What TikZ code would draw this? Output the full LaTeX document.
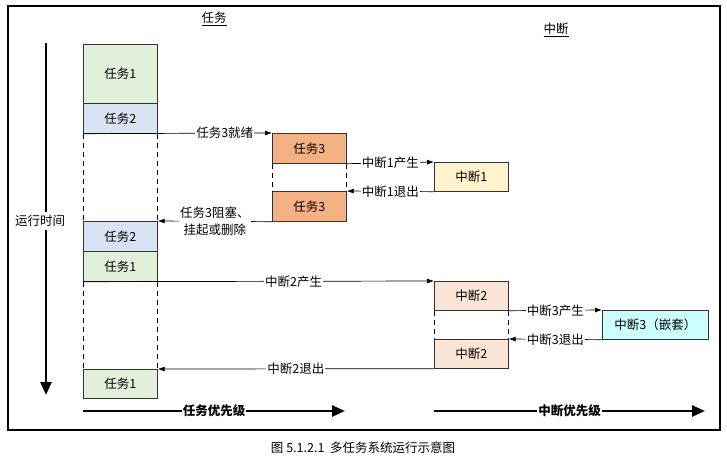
\documentclass[tikz,border=0pt]{standalone}
\usepackage{fontspec}
\setmainfont{Liberation Serif}
\newfontfamily\cjk{Noto Sans CJK SC}
\usetikzlibrary{arrows.meta}
\definecolor{cg}{HTML}{E2EFDA}
\definecolor{cb}{HTML}{DAE3F3}
\definecolor{co}{HTML}{F4B183}
\definecolor{cy}{HTML}{FFF2CC}
\definecolor{cp}{HTML}{FBE5D6}
\definecolor{cc}{HTML}{CCFFFF}
\begin{document}
\begin{tikzpicture}[x=1pt,y=-1pt,font=\cjk\fontsize{12.5}{15}\selectfont,
  box/.style={draw=black!80,line width=0.7pt,anchor=north west,inner sep=0pt},
  dsh/.style={line width=0.7pt,dash pattern=on 5pt off 4pt},
  con/.style={line width=0.7pt,-{Latex[length=7pt,width=5pt]}},
  lbl/.style={fill=white,inner sep=1pt},
  big/.style={line width=2.5pt,-{Triangle[length=13pt,width=11pt]}}]
\useasboundingbox (0,0) rectangle (727,460);
\draw[line width=1.3pt] (8,6) rectangle (720,430);
\node (cap) at (363,448) {图 5.1.2.1\ \ 多任务系统运行示意图};
\node (ht) at (214,19) {\underline{任务}};
\node (hi) at (556,30) {\underline{中断}};
% time axis
\node (time) at (40,221) {运行时间};
\coordinate (ta) at (46,43);
\coordinate (tb) at (46,395);
\draw[line width=2.5pt] (ta) -- (time.north -| ta);
\draw[big] (time.south -| ta) -- (tb);
% tasks
\node[box,fill=cg,minimum width=74pt,minimum height=59pt] (t1a) at (83,44) {};
\node at (t1a.center) {任务1};
\node[box,fill=cb,minimum width=74pt,minimum height=30pt] (t2a) at (83,103) {};
\node at (t2a.center) {任务2};
\node[box,fill=cb,minimum width=74pt,minimum height=30pt] (t2b) at (83,221) {};
\node at (t2b.center) {任务2};
\node[box,fill=cg,minimum width=74pt,minimum height=30pt] (t1b) at (83,251) {};
\node at (t1b.center) {任务1};
\node[box,fill=cg,minimum width=74pt,minimum height=29pt] (t1c) at (83,369) {};
\node at (t1c.center) {任务1};
\draw[dsh] (t2a.south west) -- (t2b.north west);
\draw[dsh] (t2a.south east) -- (t2b.north east);
\draw[dsh] (t1b.south west) -- (t1c.north west);
\draw[dsh] (t1b.south east) -- (t1c.north east);
\node[box,fill=co,minimum width=74pt,minimum height=30pt] (t3a) at (272,133) {};
\node at (t3a.center) {任务3};
\node[box,fill=co,minimum width=74pt,minimum height=30pt] (t3b) at (272,191) {};
\node at (t3b.center) {任务3};
\draw[dsh] (t3a.south west) -- (t3b.north west);
\draw[dsh] (t3a.south east) -- (t3b.north east);
% interrupts
\node[box,fill=cy,minimum width=74pt,minimum height=29pt] (i1) at (434,162) {};
\node at (i1.center) {中断1};
\node[box,fill=cp,minimum width=74pt,minimum height=29pt] (i2a) at (434,281) {};
\node at (i2a.center) {中断2};
\node[box,fill=cp,minimum width=74pt,minimum height=29pt] (i2b) at (434,339) {};
\node at (i2b.center) {中断2};
\draw[dsh] (i2a.south west) -- (i2b.north west);
\draw[dsh] (i2a.south east) -- (i2b.north east);
\node[box,fill=cc,minimum width=106pt,minimum height=29pt] (i3) at (602,310) {};
\node at (i3.center) {中断3（嵌套）};
% connectors
\draw[con] (t2a.south west) -- node[lbl,pos=0.75]{任务3就绪} (t3a.north west);
\draw[con] (t3a.south east) -- node[lbl]{中断1产生} (i1.north west);
\draw[con] (i1.south west) -- node[lbl]{中断1退出} (t3b.north east);
\draw[con] (t3b.south west) -- node[lbl,align=center,font=\cjk\fontsize{12.5}{17}\selectfont]{任务3阻塞、\\挂起或删除} (t2b.north east);
\draw[con] (t1b.south west) -- node[lbl,pos=0.6]{中断2产生} (i2a.north west);
\draw[con] (i2a.south east) -- node[lbl]{中断3产生} (i3.north west);
\draw[con] (i3.south west) -- node[lbl]{中断3退出} (i2b.north east);
\draw[con] (i2b.south west) -- node[lbl]{中断2退出} (t1c.north east);
% priority arrows
\coordinate (pa) at (83,411); \coordinate (pb) at (345,411);
\coordinate (pc) at (434,411); \coordinate (pd) at (705,411);
\draw[big] (pa) -- node[lbl,font=\cjk\bfseries\fontsize{12.5}{15}\selectfont]{任务优先级} (pb);
\draw[big] (pc) -- node[lbl,font=\cjk\bfseries\fontsize{12.5}{15}\selectfont]{中断优先级} (pd);
\end{tikzpicture}
\end{document}
